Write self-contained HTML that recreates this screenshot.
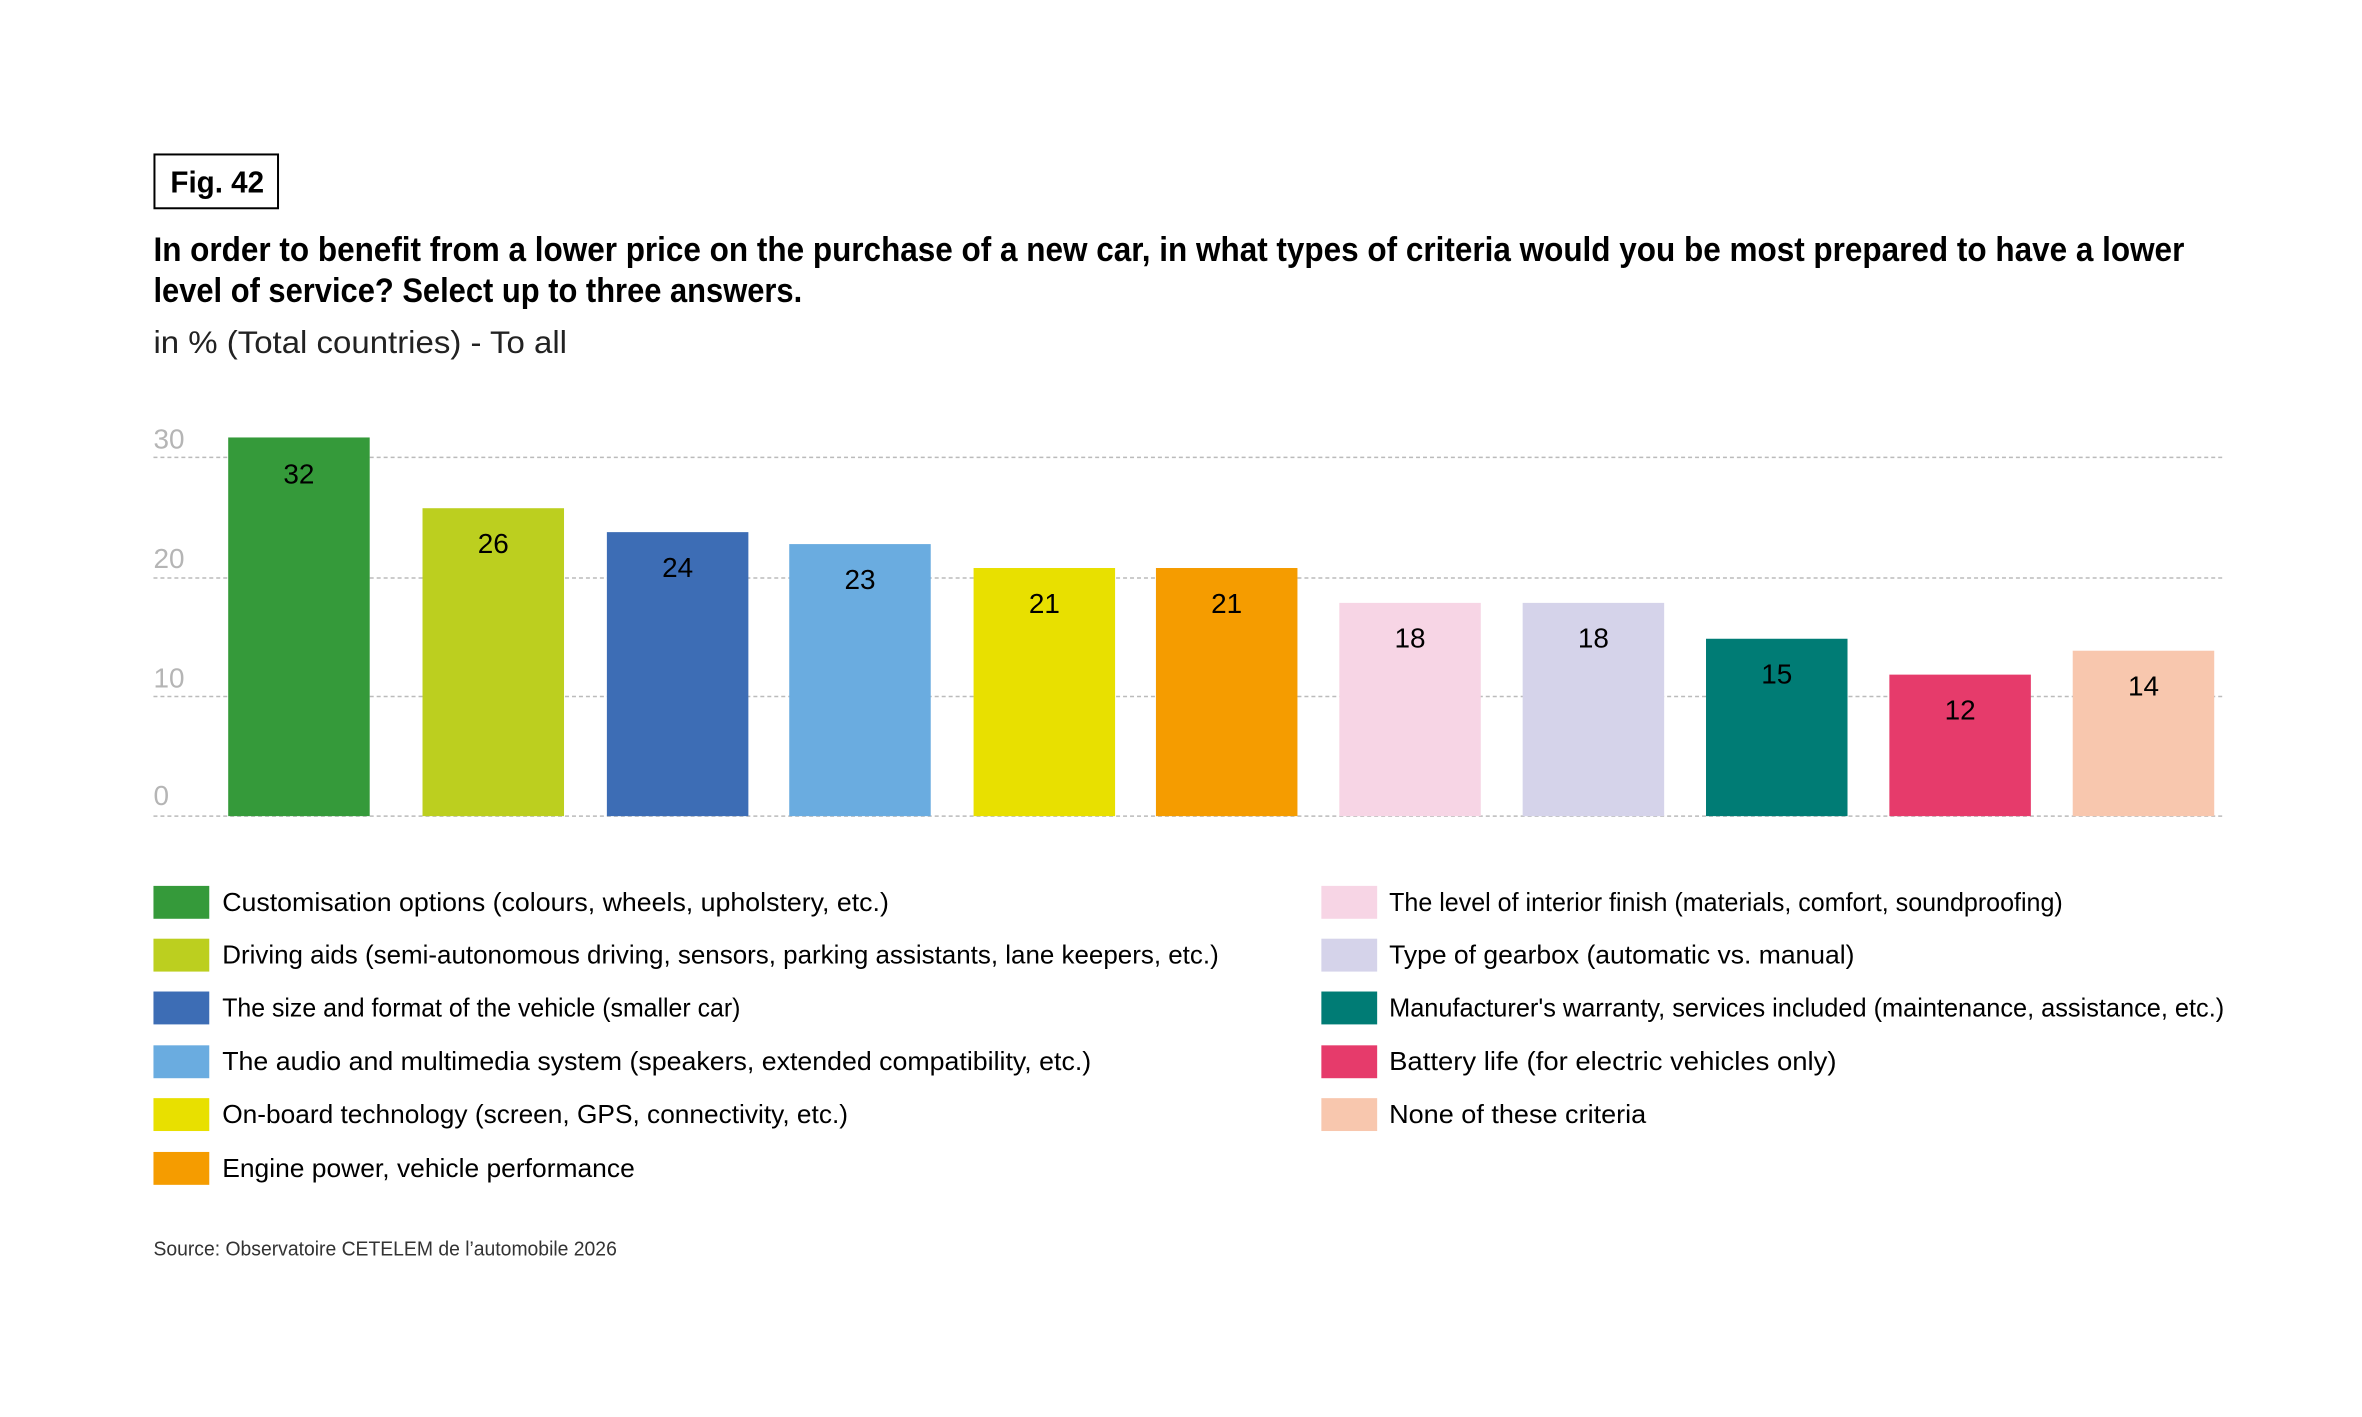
<!DOCTYPE html>
<html><head><meta charset="utf-8"><style>html,body{margin:0;padding:0;background:#fff}svg{display:block}</style></head>
<body>
<svg width="2362" height="1417" viewBox="0 0 2362 1417" xmlns="http://www.w3.org/2000/svg" font-family="'Liberation Sans Narrow','Liberation Sans',sans-serif">
<g transform="scale(0.9965)">
<rect x="155" y="155" width="124" height="54" fill="none" stroke="#000" stroke-width="2"/>
<text x="171" y="193" font-size="31" font-weight="bold" textLength="94" lengthAdjust="spacingAndGlyphs">Fig. 42</text>
<text x="154" y="262" font-size="34" font-weight="bold" textLength="2038" lengthAdjust="spacingAndGlyphs">In order to benefit from a lower price on the purchase of a new car, in what types of criteria would you be most prepared to have a lower</text>
<text x="154" y="303" font-size="34" font-weight="bold" textLength="651" lengthAdjust="spacingAndGlyphs">level of service? Select up to three answers.</text>
<text x="154" y="354" font-size="32" fill="#222" textLength="415" lengthAdjust="spacingAndGlyphs">in % (Total countries) - To all</text>
<g stroke="#bbb" stroke-width="1.5" stroke-dasharray="4,3">
<line x1="154" y1="459" x2="2232" y2="459"/><line x1="154" y1="580" x2="2232" y2="580"/><line x1="154" y1="699" x2="2232" y2="699"/><line x1="154" y1="819" x2="2232" y2="819"/>
</g>
<g font-size="28" fill="#b5b5b5">
<text x="154" y="450">30</text><text x="154" y="570">20</text><text x="154" y="690">10</text><text x="154" y="808">0</text>
</g>
<g>
<rect x="229" y="439" width="142" height="380" fill="#359a3a"/>
<rect x="424" y="510" width="142" height="309" fill="#bccf1f"/>
<rect x="609" y="534" width="142" height="285" fill="#3d6db5"/>
<rect x="792" y="546" width="142" height="273" fill="#6aace0"/>
<rect x="977" y="570" width="142" height="249" fill="#e8e000"/>
<rect x="1160" y="570" width="142" height="249" fill="#f59c00"/>
<rect x="1344" y="605" width="142" height="214" fill="#f7d5e5"/>
<rect x="1528" y="605" width="142" height="214" fill="#d5d3ea"/>
<rect x="1712" y="641" width="142" height="178" fill="#007c75"/>
<rect x="1896" y="677" width="142" height="142" fill="#e63b6b"/>
<rect x="2080" y="653" width="142" height="166" fill="#f8c7ae"/>
</g>
<g font-size="28" text-anchor="middle" fill="#000">
<text x="300" y="485">32</text><text x="495" y="555">26</text><text x="680" y="579">24</text><text x="863" y="591">23</text><text x="1048" y="615">21</text><text x="1231" y="615">21</text><text x="1415" y="650">18</text><text x="1599" y="650">18</text><text x="1783" y="686">15</text><text x="1967" y="722">12</text><text x="2151" y="698">14</text>
</g>
<g font-size="26" fill="#000">
<rect x="154" y="889" width="56" height="33" fill="#359a3a"/><text x="223" y="914" textLength="669" lengthAdjust="spacingAndGlyphs">Customisation options (colours, wheels, upholstery, etc.)</text>
<rect x="154" y="942" width="56" height="33" fill="#bccf1f"/><text x="223" y="967" textLength="1000" lengthAdjust="spacingAndGlyphs">Driving aids (semi-autonomous driving, sensors, parking assistants, lane keepers, etc.)</text>
<rect x="154" y="995" width="56" height="33" fill="#3d6db5"/><text x="223" y="1020" textLength="520" lengthAdjust="spacingAndGlyphs">The size and format of the vehicle (smaller car)</text>
<rect x="154" y="1049" width="56" height="33" fill="#6aace0"/><text x="223" y="1074" textLength="872" lengthAdjust="spacingAndGlyphs">The audio and multimedia system (speakers, extended compatibility, etc.)</text>
<rect x="154" y="1102" width="56" height="33" fill="#e8e000"/><text x="223" y="1127" textLength="628" lengthAdjust="spacingAndGlyphs">On-board technology (screen, GPS, connectivity, etc.)</text>
<rect x="154" y="1156" width="56" height="33" fill="#f59c00"/><text x="223" y="1181" textLength="414" lengthAdjust="spacingAndGlyphs">Engine power, vehicle performance</text>
<rect x="1326" y="889" width="56" height="33" fill="#f7d5e5"/><text x="1394" y="914" textLength="676" lengthAdjust="spacingAndGlyphs">The level of interior finish (materials, comfort, soundproofing)</text>
<rect x="1326" y="942" width="56" height="33" fill="#d5d3ea"/><text x="1394" y="967" textLength="467" lengthAdjust="spacingAndGlyphs">Type of gearbox (automatic vs. manual)</text>
<rect x="1326" y="995" width="56" height="33" fill="#007c75"/><text x="1394" y="1020" textLength="838" lengthAdjust="spacingAndGlyphs">Manufacturer's warranty, services included (maintenance, assistance, etc.)</text>
<rect x="1326" y="1049" width="56" height="33" fill="#e63b6b"/><text x="1394" y="1074" textLength="449" lengthAdjust="spacingAndGlyphs">Battery life (for electric vehicles only)</text>
<rect x="1326" y="1102" width="56" height="33" fill="#f8c7ae"/><text x="1394" y="1127" textLength="258" lengthAdjust="spacingAndGlyphs">None of these criteria</text>
</g>
<text x="154" y="1260" font-size="20" fill="#333" textLength="465" lengthAdjust="spacingAndGlyphs">Source: Observatoire CETELEM de l’automobile 2026</text>
</g>
</svg>
</body></html>
